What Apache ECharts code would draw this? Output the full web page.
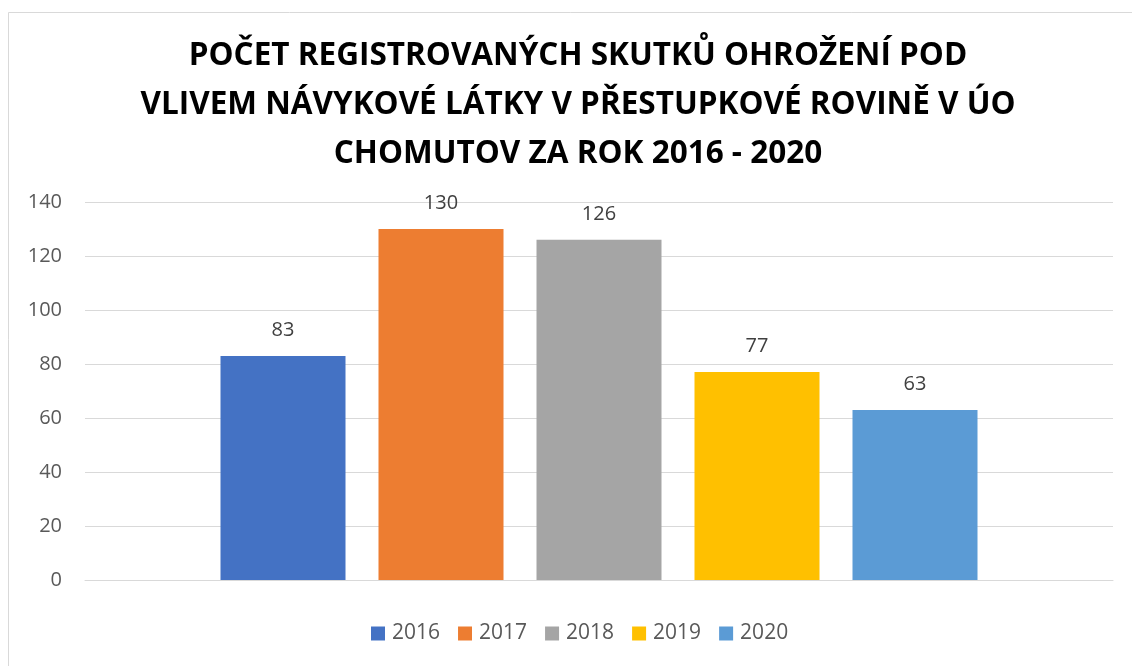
<!DOCTYPE html>
<html>
<head>
<meta charset="utf-8">
<script src="https://cdn.jsdelivr.net/npm/echarts@6/dist/echarts.min.js"></script>
<style>
html,body{margin:0;padding:0;background:#fff;}
#c{width:1132px;height:666px;}
</style>
</head>
<body>
<div id="c"></div>
<script>
const titleText = 'POČET REGISTROVANÝCH SKUTKŮ OHROŽENÍ POD\nVLIVEM NÁVYKOVÉ LÁTKY V PŘESTUPKOVÉ ROVINĚ V ÚO\nCHOMUTOV ZA ROK 2016 - 2020';
const categories = [''];
const seriesNames = ['2016', '2017', '2018', '2019', '2020'];
const seriesValues = [83, 130, 126, 77, 63];
const seriesColors = ['#4472c4', '#ed7d31', '#a5a5a5', '#ffc000', '#5b9bd5'];
const yTicks = { min: 0, max: 140, interval: 20 };

const chart = echarts.init(document.getElementById('c'));
chart.setOption({
  animation: false,
  backgroundColor: '#fff',
  graphic: [{
    type: 'rect',
    shape: { x: 8.5, y: 12.5, width: 1140, height: 680 },
    style: { fill: 'none', stroke: '#d9d9d9', lineWidth: 1 },
    silent: true, z: -1
  }],
  title: {
    text: titleText,
    left: 573,
    textAlign: 'center',
    top: 27,
    textStyle: {
      fontFamily: '"Open Sans", sans-serif',
      fontWeight: 'bold',
      fontSize: 31.5,
      lineHeight: 49,
      color: '#000'
    }
  },
  grid: { left: 85, right: 19, top: 202, bottom: 86, containLabel: false },
  legend: {
    data: seriesNames,
    bottom: 17,
    left: 366,
    icon: 'rect',
    itemWidth: 14,
    itemHeight: 14,
    itemGap: 18,
    textStyle: { fontFamily: '"Open Sans", sans-serif', fontSize: 21, color: '#595959', padding: [0, 0, 0, 2] }
  },
  xAxis: {
    type: 'category',
    data: categories,
    axisLine: { show: true, lineStyle: { color: '#d9d9d9', width: 1 } },
    axisTick: { show: false },
    axisLabel: { show: false }
  },
  yAxis: {
    type: 'value',
    min: yTicks.min, max: yTicks.max, interval: yTicks.interval,
    axisLine: { show: false },
    axisTick: { show: false },
    splitLine: { lineStyle: { color: '#d9d9d9', width: 1 } },
    axisLabel: { margin: 23, fontFamily: '"Open Sans", sans-serif', fontSize: 20, color: '#595959' }
  },
  series: seriesNames.map((name, i) => ({
    name: name,
    type: 'bar',
    data: [seriesValues[i]],
    barWidth: 125,
    barGap: '26.4%',
    itemStyle: { color: seriesColors[i] },
    label: {
      show: true,
      position: 'top',
      distance: 16,
      fontFamily: '"Open Sans", sans-serif',
      fontSize: 20,
      color: '#404040'
    }
  }))
});
</script>
</body>
</html>
